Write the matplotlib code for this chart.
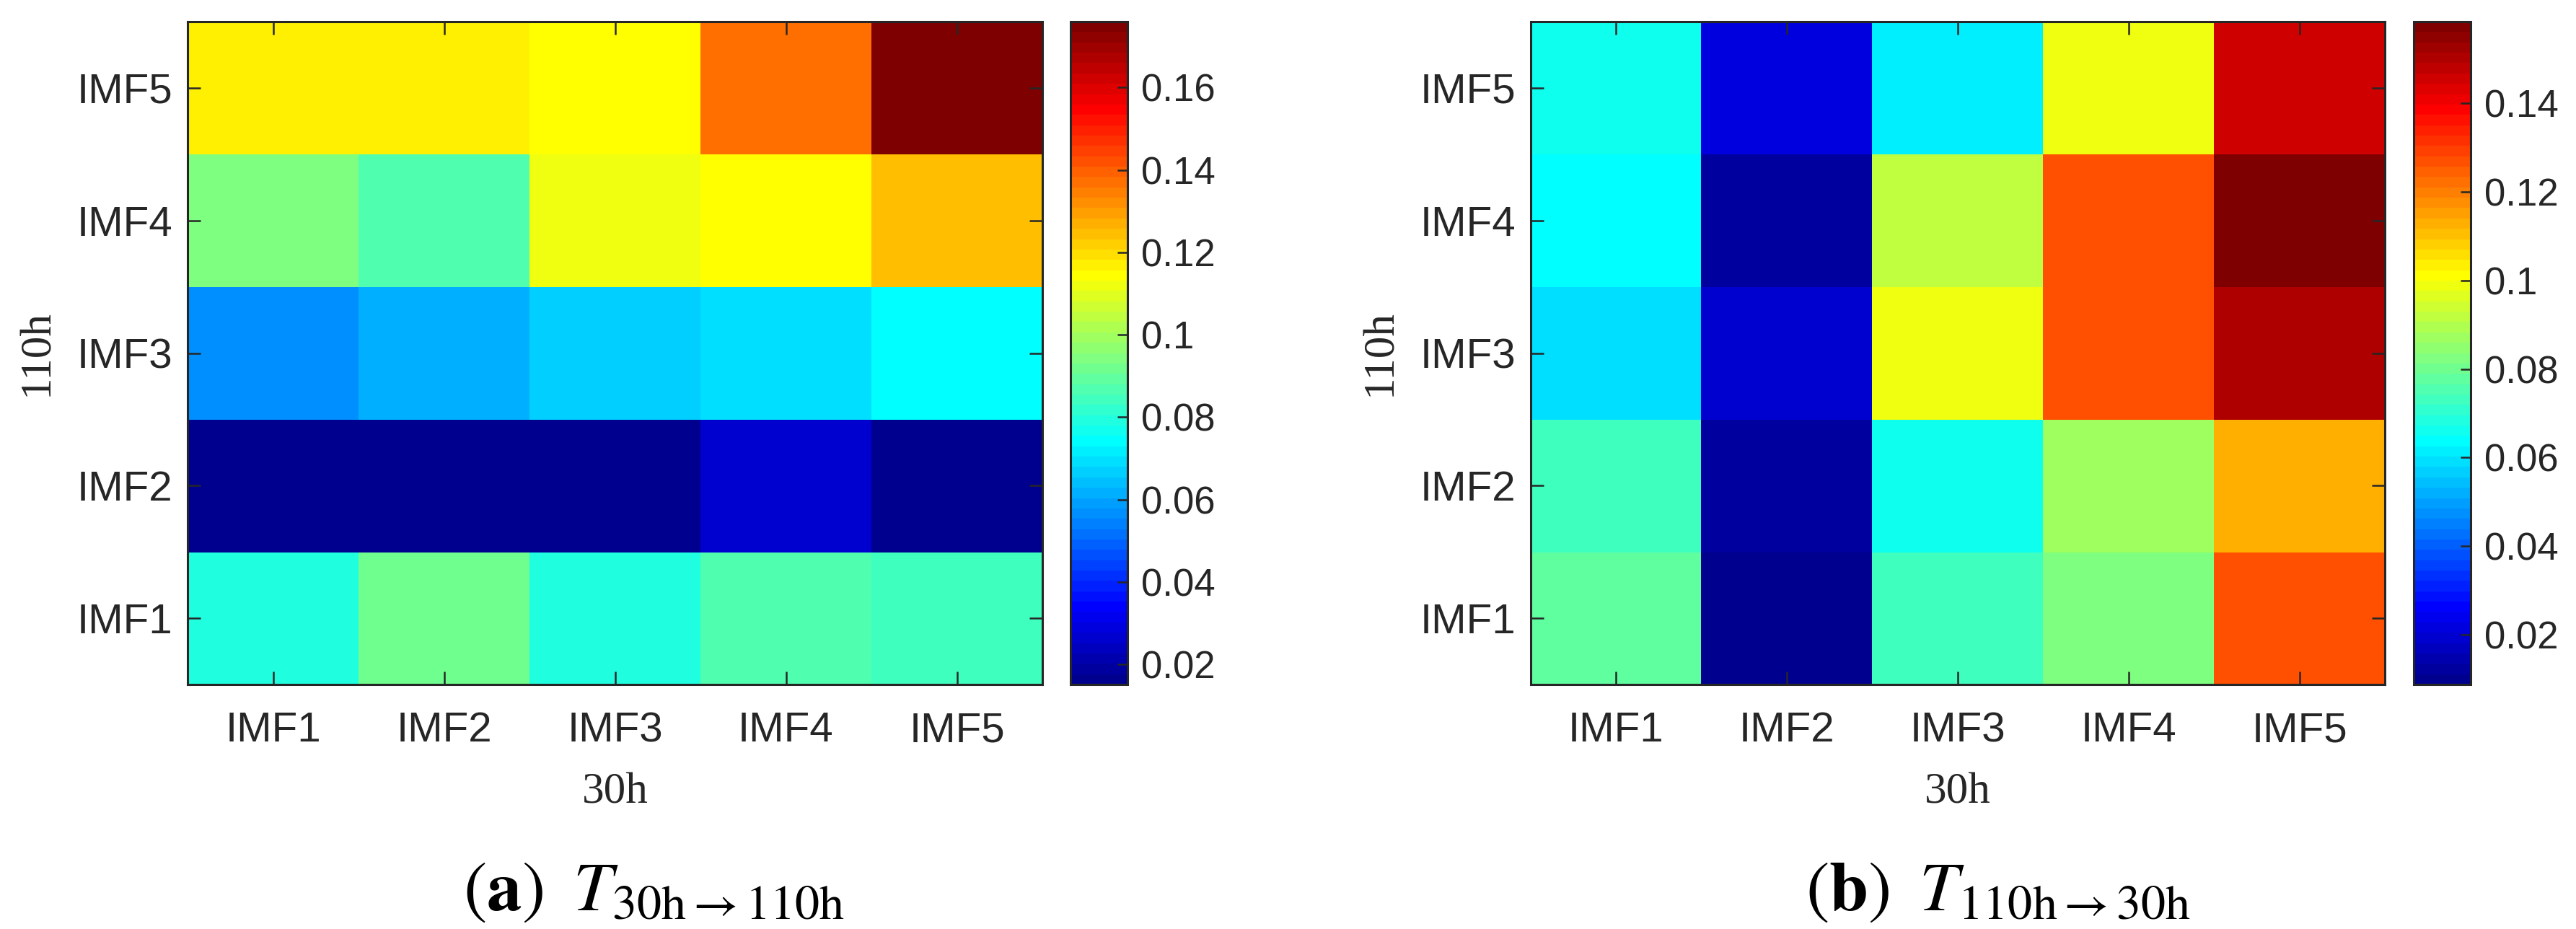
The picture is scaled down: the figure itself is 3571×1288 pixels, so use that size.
import numpy as np
import matplotlib
matplotlib.use("Agg")
import matplotlib.pyplot as plt
from matplotlib.colors import ListedColormap
from matplotlib.ticker import FuncFormatter

# ---------------- data ----------------
imf_labels = ["IMF1", "IMF2", "IMF3", "IMF4", "IMF5"]
x_label = "30h"
y_label = "110h"

# panel (a): T 30h -> 110h ; rows = 110h IMF1..IMF5, cols = 30h IMF1..IMF5
a_imf1 = [0.080, 0.092, 0.080, 0.086, 0.085]
a_imf2 = [0.016, 0.0165, 0.0151, 0.027, 0.017]
a_imf3 = [0.0555, 0.0605, 0.067, 0.070, 0.073]
a_imf4 = [0.094, 0.086, 0.111, 0.114, 0.124]
a_imf5 = [0.116, 0.116, 0.1145, 0.136, 0.176]

# panel (b): T 110h -> 30h
b_imf1 = [0.078, 0.0088, 0.0724, 0.0817, 0.128]
b_imf2 = [0.0724, 0.0133, 0.0672, 0.088, 0.112]
b_imf3 = [0.058, 0.0199, 0.098, 0.1274, 0.1493]
b_imf4 = [0.0649, 0.0133, 0.091, 0.1274, 0.1584]
b_imf5 = [0.0672, 0.0215, 0.0619, 0.0985, 0.1464]

cbar_ticks_a = [0.02, 0.04, 0.06, 0.08, 0.10, 0.12, 0.14, 0.16]
cbar_ticks_b = [0.02, 0.04, 0.06, 0.08, 0.10, 0.12, 0.14]

captions = [r"$(\mathbf{a})\;\;T_{\mathrm{30h}\rightarrow\mathrm{110h}}$",
            r"$(\mathbf{b})\;\;T_{\mathrm{110h}\rightarrow\mathrm{30h}}$"]


def matlab_jet(m=64):
    n = int(np.ceil(m / 4))
    u = np.concatenate([np.arange(1, n + 1) / n, np.ones(n - 1), np.arange(n, 0, -1) / n])
    g = int(np.ceil(n / 2)) - (1 if m % 4 == 1 else 0) + np.arange(1, len(u) + 1)
    r = g + n
    b = g - n
    J = np.zeros((m, 3))
    mk = r <= m
    J[r[mk] - 1, 0] = u[mk]
    mk = (g <= m) & (g >= 1)
    J[g[mk] - 1, 1] = u[mk]
    mk = b >= 1
    J[b[mk] - 1, 2] = u[mk]
    return ListedColormap(J)


cmap = matlab_jet(64)

plt.rcParams["mathtext.fontset"] = "stix"
dark = "#262626"
W, H = 3571, 1288
fig = plt.figure(figsize=(W / 100, H / 100), dpi=100)


def px_rect(x0, x1, y0, y1):
    return [x0 / W, 1 - y1 / H, (x1 - x0) / W, (y1 - y0) / H]


panels = [
    (np.array([a_imf1, a_imf2, a_imf3, a_imf4, a_imf5]), cbar_ticks_a,
     (260, 1445), (1484, 1563), 906),
    (np.array([b_imf1, b_imf2, b_imf3, b_imf4, b_imf5]), cbar_ticks_b,
     (2122, 3306), (3346, 3425), 2770),
]

sans = ["Liberation Sans", "DejaVu Sans"]
serif = ["Liberation Serif", "DejaVu Serif"]

for i, (mat, cticks, axx, cbx, capx) in enumerate(panels):
    ax = fig.add_axes(px_rect(axx[0], axx[1], 30, 949))
    im = ax.imshow(mat, cmap=cmap, origin="lower", aspect="auto",
                   interpolation="nearest")
    ax.set_xticks(range(len(imf_labels)))
    ax.set_yticks(range(len(imf_labels)))
    ax.set_xticklabels(imf_labels, fontfamily=sans, fontsize=42, color=dark)
    ax.set_yticklabels(imf_labels, fontfamily=sans, fontsize=42, color=dark)
    ax.tick_params(axis="both", direction="in", length=13, width=1.8,
                   color=dark, top=True, right=True)
    ax.tick_params(axis="x", pad=27)
    ax.tick_params(axis="y", pad=15)
    for s in ax.spines.values():
        s.set_linewidth(2.2)
        s.set_color(dark)
    ax.set_xlabel(x_label, fontfamily=serif, fontsize=44, color=dark, labelpad=22)
    ax.set_ylabel(y_label, fontfamily=serif, fontsize=44, color=dark, labelpad=20)

    cax = fig.add_axes(px_rect(cbx[0], cbx[1], 30, 949))
    cb = fig.colorbar(im, cax=cax)
    cb.set_ticks(cticks)
    cb.ax.yaxis.set_major_formatter(FuncFormatter(lambda v, p: ("%g" % round(v, 4))))
    cb.ax.tick_params(direction="in", length=10, width=1.8, color=dark,
                      labelsize=38, labelcolor=dark, pad=14)
    for lab in cb.ax.get_yticklabels():
        lab.set_fontfamily(sans)
    cb.outline.set_linewidth(2.2)
    cb.outline.set_edgecolor(dark)

    fig.text(capx / W, (H - 1262) / H, captions[i], ha="center", va="baseline",
             fontsize=70, color="black")

fig.savefig("out.png", dpi=100)
